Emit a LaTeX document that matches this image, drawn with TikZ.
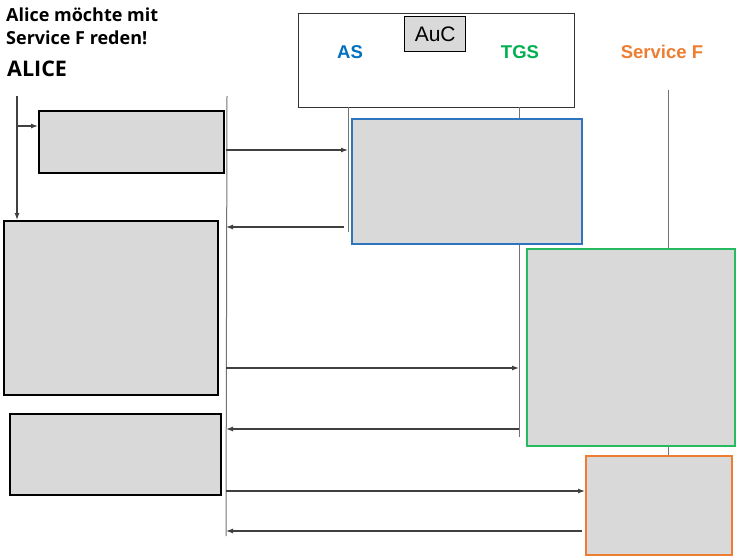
\documentclass[tikz,border=0pt]{standalone}
\usepackage{fontspec}
\setmainfont{Liberation Sans}
\newfontfamily\titlefont{Open Sans}
\usepackage{xcolor}
\usetikzlibrary{positioning,arrows.meta}
\definecolor{cell-gray}{RGB}{217,217,217}
\definecolor{as-blue}{RGB}{0,112,192}
\definecolor{as-line}{RGB}{46,117,190}
\definecolor{tgs-green}{RGB}{0,176,80}
\definecolor{tgs-line}{RGB}{40,186,96}
\definecolor{svc-orange}{RGB}{237,125,49}

\begin{document}
\begin{tikzpicture}
[
x=1pt, y=-1pt,
box-a/.style={draw=black, fill=cell-gray, line width=1.6pt, anchor=north west, inner sep=0pt},
box-b/.style={box-a, line width=1.7pt},
frame-a/.style={draw=black!80, line width=1pt, anchor=north west, inner sep=0pt},
life-a/.style={draw=black!55, line width=1pt},
msg-a/.style={draw=black!75, line width=1.2pt, -{Latex[length=7pt,width=5pt]}},
text-a/.style={inner sep=0pt, font=\bfseries\fontsize{18.5}{20}\selectfont},
text-b/.style={inner sep=0pt, anchor=base west, font=\titlefont\bfseries\fontsize{18}{20}\selectfont}
]
\useasboundingbox (0,0) rectangle (736,557);
\node (title-1)    [text-b]                                   at (6,21)   {Alice möchte mit};
\node (title-2)    [text-b]                                   at (6,44)   {Service F reden!};
\node (alice)      [text-b, font=\titlefont\bfseries\fontsize{21.5}{22}\selectfont] at (7,76) {ALICE};
\node (auc-frame)  [frame-a, minimum width=276, minimum height=94] at (298,13)  {};
\node (auc)        [box-a, line width=1.4pt, minimum width=61, minimum height=35,
                    font=\fontsize{21}{22}\selectfont]       at (404,16) {AuC};
\node (as)         [text-a, text=as-blue]                      at (350,52) {AS};
\node (tgs)        [text-a, text=tgs-green]                    at (520,52) {TGS};
\node (svc)        [text-a, text=svc-orange]                   at (662,52) {Service F};
\coordinate (alice-a-top)   at (17,96);
\coordinate (alice-a-split) at (17,126);
\coordinate (alice-b-top)   at (227,96);
\coordinate (alice-b-bot)   at (226,536);
\coordinate (as-top)        at (348,107);
\coordinate (as-bot)        at (348,232);
\coordinate (tgs-top)       at (519,107);
\coordinate (tgs-bot)       at (519,437);
\coordinate (svc-top)       at (668,90);
\coordinate (svc-bot)       at (668,456);
\draw[life-a] (alice-b-top) -- (alice-b-bot);
\draw[life-a] (as-top)      -- (as-bot);
\draw[life-a] (tgs-top)     -- (tgs-bot);
\draw[life-a] (svc-top)     -- (svc-bot);
\node (box-1)      [box-a, minimum width=185, minimum height=62]  at (38,110)  {};
\node (box-as)     [box-b, draw=as-line, minimum width=230, minimum height=125]  at (351,118) {};
\node (box-2)      [box-a, minimum width=214, minimum height=174] at (3,220)   {};
\node (box-tgs)    [box-b, draw=tgs-line, minimum width=208, minimum height=197] at (526,248) {};
\node (box-3)      [box-a, minimum width=211, minimum height=81]  at (9,413)   {};
\node (box-svc)    [box-b, draw=svc-orange, minimum width=146, minimum height=99] at (585,455) {};
\draw[msg-a] (alice-a-top)   -- (alice-a-top |- box-2.north);
\draw[msg-a] (alice-a-split) -- (alice-a-split -| box-1.west);
\coordinate (m1) at (226,150);
\coordinate (m2) at (344,227);
\coordinate (m3) at (226,368);
\coordinate (m4) at (519,429);
\coordinate (m5) at (226,491);
\coordinate (m6) at (582,531);
\draw[msg-a] (m1) -- (m1 -| as-bot);
\draw[msg-a] (m2) -- (m2 -| alice-b-bot);
\draw[msg-a] (m3) -- (m3 -| tgs-bot);
\draw[msg-a] (m4) -- (m4 -| alice-b-bot);
\draw[msg-a] (m5) -- (m5 -| box-svc.west);
\draw[msg-a] (m6) -- (m6 -| alice-b-bot);
\end{tikzpicture}
\end{document}
